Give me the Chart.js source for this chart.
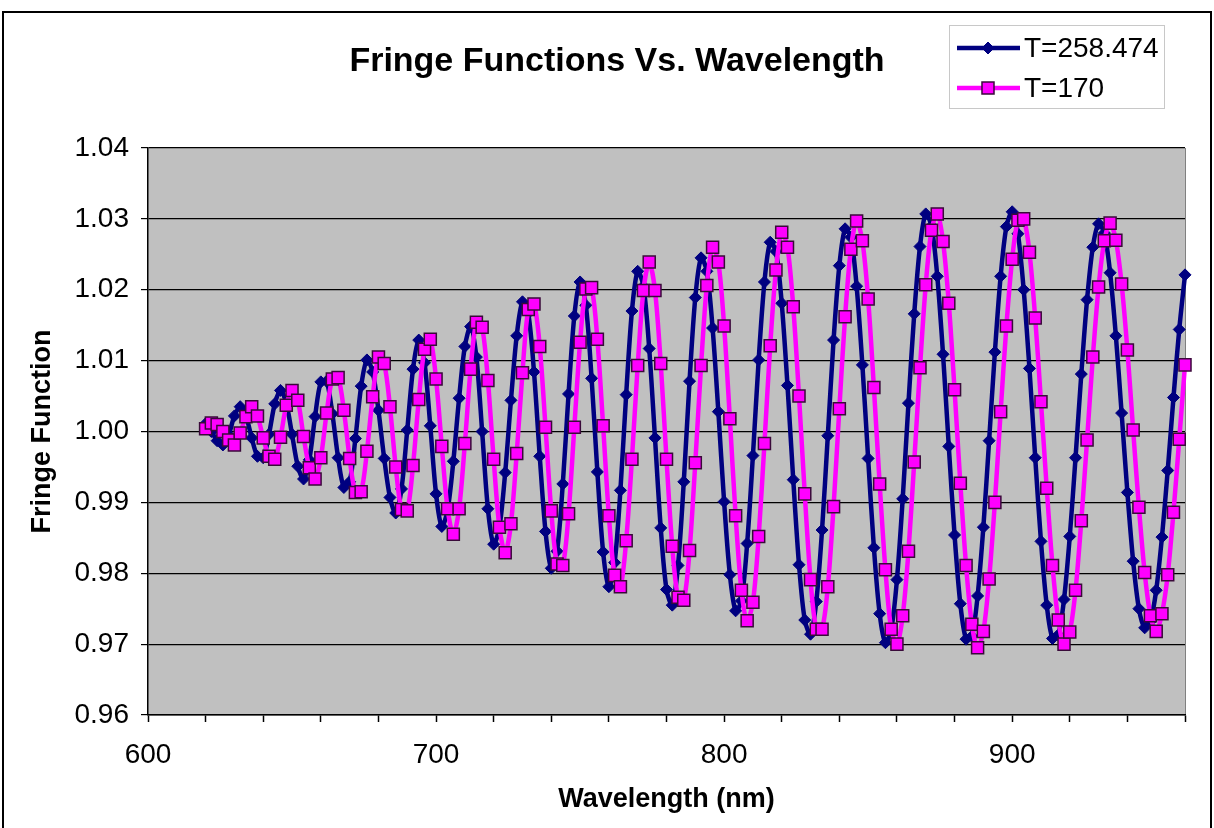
<!DOCTYPE html>
<html>
<head>
<meta charset="utf-8">
<title>Fringe Functions Vs. Wavelength</title>
<script src="https://cdn.jsdelivr.net/npm/chart.js@4.4.0/dist/chart.umd.min.js"></script>
<style>
  html, body { margin: 0; padding: 0; background: #fff; }
  canvas { display: block; }
</style>
</head>
<body>
<canvas id="myChart" width="1214" height="828"></canvas>
<script>
// wavelength (nm) of every sample
const wavelengths = [
  620, 622, 624, 626, 628, 630, 632, 634, 636, 638,
  640, 642, 644, 646, 648, 650, 652, 654, 656, 658,
  660, 662, 664, 666, 668, 670, 672, 674, 676, 678,
  680, 682, 684, 686, 688, 690, 692, 694, 696, 698,
  700, 702, 704, 706, 708, 710, 712, 714, 716, 718,
  720, 722, 724, 726, 728, 730, 732, 734, 736, 738,
  740, 742, 744, 746, 748, 750, 752, 754, 756, 758,
  760, 762, 764, 766, 768, 770, 772, 774, 776, 778,
  780, 782, 784, 786, 788, 790, 792, 794, 796, 798,
  800, 802, 804, 806, 808, 810, 812, 814, 816, 818,
  820, 822, 824, 826, 828, 830, 832, 834, 836, 838,
  840, 842, 844, 846, 848, 850, 852, 854, 856, 858,
  860, 862, 864, 866, 868, 870, 872, 874, 876, 878,
  880, 882, 884, 886, 888, 890, 892, 894, 896, 898,
  900, 902, 904, 906, 908, 910, 912, 914, 916, 918,
  920, 922, 924, 926, 928, 930, 932, 934, 936, 938,
  940, 942, 944, 946, 948, 950, 952, 954, 956, 958,
  960
];

// T=258.474
const fringeT258 = [
  1.0011, 1.0000, 0.9987, 0.9981, 0.9995, 1.0022, 1.0035, 1.0022, 0.9991, 0.9965,
  0.9963, 0.9996, 1.0039, 1.0058, 1.0040, 0.9996, 0.9951, 0.9933, 0.9960, 1.0021,
  1.0070, 1.0071, 1.0025, 0.9963, 0.9921, 0.9929, 0.9990, 1.0064, 1.0101, 1.0084,
  1.0030, 0.9962, 0.9907, 0.9885, 0.9919, 1.0002, 1.0088, 1.0129, 1.0097, 1.0008,
  0.9912, 0.9866, 0.9889, 0.9958, 1.0047, 1.0120, 1.0148, 1.0105, 1.0000, 0.9891,
  0.9841, 0.9865, 0.9942, 1.0044, 1.0135, 1.0183, 1.0167, 1.0084, 0.9965, 0.9859,
  0.9807, 0.9831, 0.9926, 1.0053, 1.0163, 1.0211, 1.0178, 1.0075, 0.9943, 0.9830,
  0.9781, 0.9815, 0.9917, 1.0052, 1.0170, 1.0226, 1.0205, 1.0117, 0.9991, 0.9864,
  0.9777, 0.9755, 0.9811, 0.9929, 1.0071, 1.0189, 1.0245, 1.0226, 1.0146, 1.0028,
  0.9901, 0.9798, 0.9747, 0.9761, 0.9842, 0.9966, 1.0101, 1.0211, 1.0267, 1.0254,
  1.0181, 1.0065, 0.9932, 0.9812, 0.9734, 0.9714, 0.9760, 0.9861, 0.9994, 1.0129,
  1.0234, 1.0286, 1.0274, 1.0205, 1.0094, 0.9962, 0.9836, 0.9743, 0.9702, 0.9720,
  0.9791, 0.9905, 1.0040, 1.0166, 1.0261, 1.0307, 1.0290, 1.0219, 1.0109, 0.9979,
  0.9854, 0.9757, 0.9707, 0.9711, 0.9768, 0.9865, 0.9987, 1.0112, 1.0219, 1.0289,
  1.0310, 1.0279, 1.0200, 1.0089, 0.9963, 0.9845, 0.9755, 0.9708, 0.9713, 0.9763,
  0.9852, 0.9963, 1.0081, 1.0186, 1.0260, 1.0293, 1.0280, 1.0224, 1.0135, 1.0026,
  0.9914, 0.9817, 0.9750, 0.9723, 0.9732, 0.9776, 0.9851, 0.9945, 1.0048, 1.0144,
  1.0221
];

// T=170
const fringeT170 = [
  1.0004, 1.0012, 1.0010, 1.0000, 0.9988, 0.9981, 0.9998, 1.0021, 1.0035, 1.0022,
  0.9991, 0.9965, 0.9961, 0.9992, 1.0037, 1.0058, 1.0044, 0.9993, 0.9949, 0.9933,
  0.9963, 1.0026, 1.0074, 1.0076, 1.0030, 0.9962, 0.9914, 0.9915, 0.9972, 1.0049,
  1.0105, 1.0096, 1.0035, 0.9950, 0.9890, 0.9888, 0.9952, 1.0045, 1.0116, 1.0130,
  1.0074, 0.9979, 0.9891, 0.9855, 0.9891, 0.9983, 1.0088, 1.0154, 1.0147, 1.0072,
  0.9961, 0.9865, 0.9829, 0.9870, 0.9969, 1.0083, 1.0172, 1.0180, 1.0120, 1.0006,
  0.9888, 0.9813, 0.9811, 0.9884, 1.0006, 1.0126, 1.0201, 1.0203, 1.0130, 1.0008,
  0.9881, 0.9797, 0.9781, 0.9846, 0.9961, 1.0093, 1.0199, 1.0239, 1.0199, 1.0096,
  0.9961, 0.9838, 0.9766, 0.9762, 0.9832, 0.9956, 1.0093, 1.0206, 1.0260, 1.0239,
  1.0149, 1.0018, 0.9881, 0.9776, 0.9733, 0.9759, 0.9852, 0.9983, 1.0121, 1.0228,
  1.0281, 1.0260, 1.0176, 1.0050, 0.9912, 0.9791, 0.9721, 0.9721, 0.9781, 0.9894,
  1.0032, 1.0162, 1.0257, 1.0297, 1.0269, 1.0187, 1.0062, 0.9926, 0.9805, 0.9721,
  0.9700, 0.9740, 0.9831, 0.9957, 1.0090, 1.0207, 1.0284, 1.0307, 1.0268, 1.0181,
  1.0059, 0.9927, 0.9811, 0.9728, 0.9695, 0.9718, 0.9792, 0.9900, 1.0028, 1.0149,
  1.0243, 1.0298, 1.0300, 1.0253, 1.0160, 1.0042, 0.9920, 0.9811, 0.9734, 0.9700,
  0.9717, 0.9776, 0.9874, 0.9988, 1.0105, 1.0204, 1.0269, 1.0294, 1.0270, 1.0208,
  1.0115, 1.0002, 0.9893, 0.9801, 0.9740, 0.9718, 0.9743, 0.9798, 0.9886, 0.9989,
  1.0094
];

const seriesNames = ['T=258.474', 'T=170'];
const xTickLabels = [600, 700, 800, 900];

const FONT = "'Liberation Sans', Arial, sans-serif";
Chart.defaults.font.family = FONT;
Chart.defaults.color = '#000';

const toPoints = (ys) => wavelengths.map((x, i) => ({ x: x, y: ys[i] }));

// grey plot area, outer frame, title and legend box
const excelLook = {
  id: 'excelLook',
  beforeDraw(chart) {
    const { ctx, chartArea: a } = chart;
    ctx.save();
    ctx.fillStyle = '#fff';
    ctx.fillRect(0, 0, chart.width, chart.height);
    ctx.strokeStyle = '#000';
    ctx.lineWidth = 2;
    ctx.strokeRect(3, 12, 1208, 830);
    ctx.fillStyle = '#c0c0c0';
    ctx.fillRect(a.left, a.top, a.right - a.left, a.bottom - a.top);
    ctx.strokeStyle = '#808080';
    ctx.lineWidth = 1;
    ctx.beginPath();
    ctx.moveTo(a.right + 0.5, a.top);
    ctx.lineTo(a.right + 0.5, a.bottom);
    ctx.stroke();
    ctx.restore();
  },
  afterDraw(chart) {
    const ctx = chart.ctx;
    ctx.save();
    ctx.fillStyle = '#000';
    ctx.font = 'bold 34px ' + FONT;
    ctx.textAlign = 'center';
    ctx.textBaseline = 'alphabetic';
    ctx.fillText('Fringe Functions Vs. Wavelength', 617, 71);

    // legend
    ctx.fillStyle = '#fff';
    ctx.fillRect(949, 25, 215, 83);
    ctx.strokeStyle = '#c8c8c8';
    ctx.lineWidth = 1;
    ctx.strokeRect(949.5, 25.5, 215, 83);

    const rows = [48, 88];
    chart.data.datasets.forEach((d, k) => {
      const y = rows[k];
      ctx.strokeStyle = d.borderColor;
      ctx.lineWidth = d.borderWidth;
      ctx.beginPath();
      ctx.moveTo(957, y);
      ctx.lineTo(1020, y);
      ctx.stroke();
      ctx.fillStyle = d.pointBackgroundColor;
      ctx.strokeStyle = d.pointBorderColor;
      ctx.lineWidth = d.pointBorderWidth;
      ctx.beginPath();
      if (d.pointStyle === 'rect') {
        const s = d.pointRadius * Math.SQRT1_2;
        ctx.rect(988 - s, y - s, 2 * s, 2 * s);
      } else {
        const r = d.pointRadius;
        ctx.moveTo(988, y - r);
        ctx.lineTo(988 + r, y);
        ctx.lineTo(988, y + r);
        ctx.lineTo(988 - r, y);
        ctx.closePath();
      }
      ctx.fill();
      ctx.stroke();
      ctx.fillStyle = '#000';
      ctx.font = '28px ' + FONT;
      ctx.textAlign = 'left';
      ctx.textBaseline = 'middle';
      ctx.fillText(d.label, 1024, y + 1);
    });
    ctx.restore();
  }
};

const ctx = document.getElementById('myChart').getContext('2d');
const myChart = new Chart(ctx, {
  type: 'line',
  data: {
    datasets: [
      {
        label: seriesNames[0],
        data: toPoints(fringeT258),
        borderColor: '#000080',
        backgroundColor: '#000080',
        borderWidth: 4.5,
        pointStyle: 'rectRot',
        pointRadius: 6,
        pointBackgroundColor: '#000080',
        pointBorderColor: '#000080',
        pointBorderWidth: 1,
        tension: 0.3,
        clip: false,
        order: 1
      },
      {
        label: seriesNames[1],
        data: toPoints(fringeT170),
        borderColor: '#ff00ff',
        backgroundColor: '#ff00ff',
        borderWidth: 4.5,
        pointStyle: 'rect',
        pointRadius: 8.5,
        pointBackgroundColor: '#ff00ff',
        pointBorderColor: '#3a0a3a',
        pointBorderWidth: 1.5,
        tension: 0.3,
        clip: false,
        order: 0
      }
    ]
  },
  options: {
    responsive: false,
    animation: false,
    layout: { padding: { top: 148, right: 29, left: 0, bottom: 0 } },
    plugins: {
      legend: { display: false },
      tooltip: { enabled: false }
    },
    scales: {
      x: {
        type: 'linear',
        min: 600,
        max: 960,
        afterFit: (s) => { s.height = 113; },
        ticks: {
          stepSize: 20,
          autoSkip: false,
          maxRotation: 0,
          padding: 16,
          font: { size: 28 },
          callback: (v) => xTickLabels.includes(Math.round(v)) ? String(Math.round(v)) : ''
        },
        grid: { drawOnChartArea: false, color: '#000', tickLength: 7, tickWidth: 1.5 },
        border: { color: '#000', width: 1.5 },
        title: {
          display: true,
          text: 'Wavelength (nm)',
          font: { size: 27, weight: 'bold' },
          padding: { top: 0, bottom: 12 }
        }
      },
      y: {
        min: 0.96,
        max: 1.04,
        afterFit: (s) => { s.width = 148; },
        ticks: {
          stepSize: 0.01,
          padding: 12,
          font: { size: 28 },
          callback: (v) => v.toFixed(2)
        },
        grid: { color: '#000', lineWidth: 1.2, tickLength: 7 },
        border: { color: '#000', width: 1.5 },
        title: {
          display: true,
          text: 'Fringe Function',
          font: { size: 27, weight: 'bold' },
          padding: { top: 26, bottom: 0 }
        }
      }
    }
  },
  plugins: [excelLook]
});
</script>
</body>
</html>
